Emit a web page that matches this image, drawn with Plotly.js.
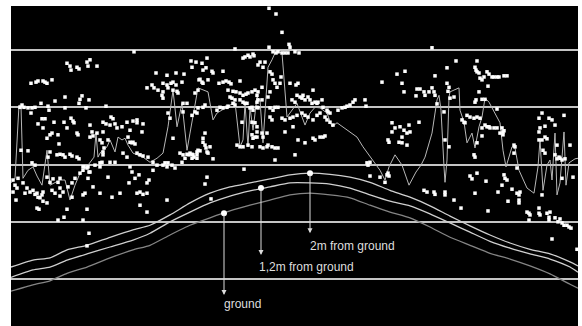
<!DOCTYPE html>
<html>
<head>
<meta charset="utf-8">
<script src="https://cdn.plot.ly/plotly-3.0.1.min.js"></script>
<style>html,body{margin:0;padding:0;background:#fff;}#chart{width:582px;height:326px;}</style>
</head>
<body>
<div id="chart"></div>
<script>
// ---- data (x: distance along profile, y: height; gridlines every 1 unit) ----
const scatterWest = [
[123,3.97],[56,3.77],[59,3.72],[60,3.65],[66,3.70],[68,3.67],[76,3.79],[79,3.83],[77,3.72],[86,3.72],
[20,3.42],[25,3.44],[27,3.46],[32,3.46],[34,3.44],[36,3.42],[41,3.48],
[54,3.18],[71,3.20],[69,3.14],[68,3.07],[78,3.13],[44,3.11],[30,3.07],
[9,3.00],[11,3.04],[13,3.00],[17,2.99],[21,2.99],[24,3.00],[20,2.90],
[37,3.02],[38,2.95],[54,2.99],[75,2.99],[95,3.02],
[31,2.80],[34,2.80],[27,2.71],[32,2.64],[43,2.74],[53,2.74],[60,2.81],[62,2.76],[63,2.73],[56,2.64],
[36,2.46],[39,2.52],[47,2.52],[48,2.36],[66,2.55],[67,2.52],[79,2.69],[81,2.57],[79,2.48],[82,2.50],[86,2.55],
[92,2.74],[95,2.71],[92,2.57],[100,2.83],[102,2.80],[99,2.69],[104,2.71],[106,2.64],[111,2.66],[116,2.74],
[122,2.76],[126,2.78],[126,2.73],[119,2.60],[117,2.48],[119,2.39],[121,2.38],[122,2.39],[124,2.36],
[132,2.71],[131,2.57],[97,2.43],[93,2.29],[92,2.22],[89,2.03],[91,2.04],
[49,2.18],[52,2.17],[54,2.13],[59,2.18],[61,2.15],[66,2.13],[68,2.10],[37,2.13],[10,2.25],[17,2.24],
[21,2.03],[24,1.99],[72,1.96],[77,1.96],[112,2.20],[116,2.13],[119,1.96],
[126,2.20],[129,2.17],[132,2.15],[137,2.13],
[145,3.60],[136,3.34],[141,3.39],[143,3.34],[147,3.30],[151,3.21],[152,3.16],[152,3.27],
[152,3.42],[156,3.39],[160,3.42],[162,3.44],[165,3.39],[157,3.34],[162,3.30],[166,3.28],[167,3.25],
[156,3.56],[165,3.60],[173,3.58],[171,3.44],[180,3.81],[185,3.79],[181,3.70],[188,3.48],
[157,2.90],[159,2.81],[162,2.46],[172,3.07],[176,3.07],[184,2.92],[187,2.99],[172,2.92],
[169,2.20],[172,2.17],[176,2.18],[178,2.17],[181,2.18],[183,2.13],[186,2.17],[174,2.11],
[154,2.03],[157,2.03],[161,1.99],[171,2.04],[187,2.25],
[89,2.43],[91,2.38],[99,2.04],[104,2.04],[92,2.17],[41,2.55],[39,2.22],[46,2.17],
[2,1.73],[7,1.76],[4,1.64],[6,1.59],[2,1.52],[5,1.38],
[12,1.68],[16,1.59],[14,1.50],[19,1.52],[22,1.55],[26,1.50],[27,1.43],[31,1.47],[32,1.52],
[29,1.42],[32,1.36],[36,1.33],[26,1.24],[28,1.22],
[41,1.55],[44,1.50],[49,1.59],[52,1.52],[47,1.69],[49,1.76],
[57,1.61],[61,1.68],[64,1.76],[69,1.85],[72,1.90],
[72,1.47],[82,1.61],[89,1.50],[97,1.78],[77,1.76],[78,1.87],[84,1.99],[89,1.96],
[109,1.50],[121,1.87],[118,1.68],[126,1.50],[129,1.52],[132,1.48],[136,1.50],
[124,1.76],[128,1.82],[136,1.68],[138,1.73],[142,1.90],
[129,1.29],[136,1.17],[156,1.38],
[142,2.04],[146,1.99],[152,1.99],[156,1.96],[164,1.94],
[47,1.03],[53,1.08],[56,1.22],[72,1.03],[76,1.22],[78,0.80],[76,0.58],
[36,1.78],[39,1.69],[42,1.75],[73,1.96],[76,1.94],[79,1.87],[24,1.48],[49,1.45],[61,1.43],[74,1.50],[101,1.43]
];
const scatterCentre = [
[258,4.73],[265,4.63],[271,4.31],[258,4.05],[278,4.10],[279,4.05],[224,4.02],
[232,3.86],[234,3.88],[237,3.91],[239,3.88],[242,3.93],[243,3.90],
[262,3.97],[265,3.95],[267,3.97],[271,3.95],[274,3.95],[277,3.95],[284,3.97],[288,3.95],
[249,3.79],[247,3.74],[252,3.70],[254,3.79],
[191,3.77],[196,3.86],[192,3.65],[195,3.69],[201,3.63],[202,3.60],[212,3.63],[259,3.62],[261,3.58],
[189,3.49],[191,3.44],[192,3.42],[197,3.48],[208,3.42],[212,3.44],[215,3.46],[218,3.44],[220,3.41],[229,3.46],
[262,3.48],[264,3.42],[266,3.35],[269,3.42],[270,3.53],[259,3.27],[257,3.18],[251,3.35],[244,3.30],
[279,3.42],[285,3.39],[287,3.42],[371,3.44],
[184,3.25],[187,3.30],[217,3.30],[222,3.28],[225,3.27],[229,3.25],[232,3.21],[235,3.23],[237,3.25],
[241,3.27],[246,3.21],[247,3.27],[219,3.18],[221,3.16],[224,3.13],[229,3.13],
[232,3.09],[234,3.07],[236,3.07],[246,3.09],[247,3.13],[251,3.13],
[281,3.13],[284,3.09],[286,3.21],[289,3.18],[291,3.16],[292,3.21],[294,3.13],[297,3.18],[302,3.30],
[299,3.13],[301,3.07],[304,3.09],[306,3.07],[307,3.09],[311,3.13],
[312,3.00],[316,2.95],[317,2.92],[319,2.90],
[327,2.95],[331,2.99],[334,3.00],[336,3.02],[339,3.04],[342,3.09],[344,3.13],[354,3.13],[355,3.02],
[192,3.00],[194,3.04],[206,2.95],[209,3.00],[212,2.99],[216,3.00],[217,3.02],[222,3.07],[224,3.04],
[239,2.99],[241,3.00],[242,2.95],[246,3.00],[247,2.99],[259,2.99],[262,2.95],[264,3.00],[267,3.00],
[186,2.90],[181,2.86],
[271,2.81],[274,2.78],[279,2.81],[282,2.83],[286,2.86],[291,2.90],[294,2.86],[297,2.83],[302,2.78],[306,2.86],[309,2.90],[314,2.83],[316,2.78],[319,2.74],[322,2.69],
[241,2.74],[244,2.73],[246,2.66],[259,2.83],[261,2.78],[231,2.74],[282,2.66],
[246,2.57],[251,2.55],[252,2.48],[256,2.55],[246,2.48],[241,2.52],[242,2.46],[244,2.48],
[274,2.57],[287,2.43],[294,2.38],[302,2.46],[304,2.43],[309,2.48],[312,2.48],[314,2.50],
[194,2.55],[192,2.46],[192,2.39],[194,2.34],[195,2.29],
[226,2.34],[229,2.31],[232,2.31],[237,2.34],[241,2.31],[249,2.31],[252,2.29],[256,2.31],[257,2.34],[261,2.31],[264,2.29],[267,2.29],
[199,2.31],[186,2.22],[189,2.24],[196,2.22],[197,2.20],[179,2.20],[182,2.17],[181,2.11],[186,2.11],
[202,2.10],[264,2.08],[284,2.17],[356,2.03],[359,2.04],[377,2.43],
[194,1.66],[196,1.78],[200,1.40],[233,1.92],[357,1.99],[359,1.80],[369,1.78],[377,1.85]
];
const scatterEast = [
[421,4.04],[445,3.81],[466,3.81],[436,3.69],[386,3.58],[394,3.63],[424,3.55],
[464,3.70],[465,3.65],[466,3.62],[468,3.60],[469,3.51],[471,3.48],[473,3.53],[476,3.62],[478,3.58],[481,3.53],[483,3.53],[486,3.53],[488,3.53],[493,3.55],[496,3.55],
[391,3.42],[393,3.27],[406,3.32],[409,3.32],[413,3.27],[414,3.21],[418,3.27],[421,3.34],[423,3.27],[424,3.21],[405,3.20],
[436,3.42],[438,3.35],[437,3.28],[477,3.37],[468,3.27],[471,3.14],[474,3.14],[439,3.16],[443,3.18],[464,3.09],[465,3.13],[426,3.06],
[486,2.97],[433,2.92],[451,2.78],[453,2.74],[454,2.73],[456,2.86],[459,2.83],[463,2.81],[466,2.83],[469,2.81],
[471,2.64],[474,2.69],[476,2.66],[478,2.66],[479,2.64],[483,2.64],[486,2.64],[491,2.64],[493,2.59],[492,2.52],
[471,2.50],[466,2.38],[463,2.17],
[381,2.73],[381,2.57],[384,2.64],[389,2.66],[393,2.60],[391,2.48],[396,2.55],[398,2.69],[399,2.57],
[378,2.39],[388,2.39],[391,2.38],[396,2.34],[408,2.74],[434,2.43],[438,2.31],
[528,2.81],[531,2.90],[538,2.81],[541,2.78],[529,2.64],[528,2.57],[534,2.67],[544,2.69],[553,2.86],
[534,2.48],[528,2.43],[531,2.43],[536,2.45],[532,2.25],
[548,2.13],[549,2.11],[544,2.17],[546,2.10],[551,2.08],[554,2.10],[546,2.34],[559,2.34],[534,2.20],
[503,2.34],[504,2.31],[503,2.20],[464,2.13],[489,2.55],[492,2.57],
[376,1.82],[378,1.80],[374,1.69],[413,1.55],[416,1.52],[423,1.52],[424,1.48],[434,1.52],[434,1.47],
[443,1.38],[450,1.24],[459,1.80],[461,1.75],[466,1.85],[475,1.71],[464,1.50],[477,1.19],
[487,1.52],[491,1.64],[493,1.82],[494,1.76],[496,1.73],[497,1.36],[501,1.57],
[506,1.50],[508,1.38],[508,1.33],[508,1.47],[509,1.52],[506,1.94],
[516,1.17],[518,1.15],[519,1.12],[518,1.03],[528,1.24],[528,1.15],[529,1.12],[531,1.47],
[536,1.15],[538,1.08],[539,1.17],[544,1.07],[547,1.00],[549,1.05],[551,0.98],[553,0.94],[556,0.94],[558,0.91],[560,0.89],
[541,0.70],[551,1.76],[562,1.78],[566,0.52],[538,1.03]
];
const tracePath = [
[0,1.68],[4,1.76],[8,3.04],[10,3.02],[12,1.76],[17,1.90],[22,1.96],[26,1.80],[31,1.64],[36,2.25],[39,1.64],
[44,1.68],[49,1.73],[54,1.73],[59,1.38],[64,1.64],[69,1.85],[77,1.99],[83,2.13],[85,2.55],[87,2.13],[89,2.20],
[96,2.31],[99,2.43],[104,2.22],[107,2.48],[111,2.43],[114,2.46],[117,2.34],[122,2.20],[127,2.17],[132,2.13],
[139,2.04],[146,2.11],[152,2.20],[157,2.66],[162,3.30],[166,2.66],[171,3.07],[176,2.25],[179,2.55],[187,3.34],
[197,3.27],[202,2.78],[206,2.90],[211,2.95],[219,3.04],[224,3.09],[229,2.31],[232,2.43],[234,3.07],[237,2.31],
[239,3.00],[242,2.60],[246,3.18],[249,3.13],[252,2.38],[257,3.70],[261,3.83],[264,3.95],[267,3.97],[271,3.95],
[276,2.83],[279,2.90],[286,3.07],[294,2.69],[299,2.90],[304,3.00],[309,2.99],[316,2.90],[321,2.66],[326,2.73],
[336,2.60],[346,2.48],[352,2.31],[362,2.08],[369,1.90],[374,1.73],[378,1.96],[384,2.17],[391,1.99],[398,1.64],
[405,1.87],[410,1.99],[414,2.13],[421,2.55],[426,3.13],[428,3.21],[430,2.95],[433,1.96],[434,1.69],[436,2.08],
[438,3.18],[439,3.27],[448,3.34],[449,2.95],[453,2.74],[456,2.38],[461,2.55],[464,2.29],[468,2.66],[471,2.83],
[474,3.16],[478,3.09],[484,2.90],[489,2.73],[492,2.25],[495,1.96],[501,2.31],[504,2.29],[508,1.90],[516,1.59],
[523,1.50],[527,1.96],[529,2.43],[532,1.55],[536,1.99],[539,2.08],[541,1.73],[544,2.55],[546,1.47],[549,1.68],
[553,2.57],[555,1.64],[558,2.03],[564,2.10],[567,2.11]
];
const curveX  = [0,22,39,56,76,99,122,139,159,179,199,219,239,259,279,299,319,339,359,379,399,419,439,459,479,499,519,539,559,567];
const groundY = [-0.21,-0.10,-0.03,0.10,0.21,0.37,0.51,0.59,0.77,0.94,1.07,1.19,1.29,1.38,1.47,1.50,1.47,1.42,1.29,1.17,1.07,0.91,0.73,0.59,0.45,0.35,0.23,0.09,-0.09,-0.16];
const h12Y    = [0.03,0.16,0.21,0.33,0.44,0.56,0.68,0.80,1.00,1.17,1.33,1.45,1.54,1.61,1.68,1.68,1.66,1.59,1.47,1.36,1.28,1.14,0.98,0.82,0.66,0.54,0.44,0.35,0.21,0.12];
const h2Y     = [0.21,0.33,0.37,0.51,0.59,0.73,0.86,0.94,1.12,1.33,1.50,1.61,1.68,1.75,1.82,1.85,1.83,1.78,1.69,1.55,1.43,1.28,1.10,0.93,0.77,0.63,0.52,0.44,0.30,0.23];
const calloutLabels = ['ground', '1,2m from ground', '2m from ground'];
const calloutX = [213, 250, 299];
const calloutY = [1.15, 1.59, 1.85];

// ---- build traces ----
const allPts = scatterWest.concat(scatterCentre, scatterEast);
const traces = [
  {x: curveX, y: groundY, mode: 'lines', line: {color: '#858585', width: 1.3, shape: 'spline', smoothing: 0.5}, hoverinfo: 'skip'},
  {x: curveX, y: h12Y, mode: 'lines', line: {color: '#cfcfcf', width: 1.3, shape: 'spline', smoothing: 0.5}, hoverinfo: 'skip'},
  {x: curveX, y: h2Y, mode: 'lines', line: {color: '#cfcfcf', width: 1.3, shape: 'spline', smoothing: 0.5}, hoverinfo: 'skip'},
  {x: tracePath.map(p => p[0]), y: tracePath.map(p => p[1]), mode: 'lines', line: {color: '#b8b8b8', width: 1}, hoverinfo: 'skip'},
  {x: allPts.map(p => p[0]), y: allPts.map(p => p[1]), mode: 'markers', marker: {symbol: 'square', size: 3.5, color: '#ffffff', line: {width: 0}}, hoverinfo: 'skip'},
  {x: calloutX, y: calloutY, mode: 'markers', marker: {symbol: 'circle', size: 6, color: '#ffffff', line: {width: 0}}, hoverinfo: 'skip'}
];

// arrow tips and label positions (layout)
const tipY = [-0.28, 0.42, 0.80];
const labelX = [211, 246, 297];
const labelY = [-0.44, 0.21, 0.58];
const annotations = [];
calloutLabels.forEach((lab, i) => {
  annotations.push({x: calloutX[i], y: tipY[i], xref: 'x', yref: 'y', ax: calloutX[i], ay: calloutY[i], axref: 'x', ayref: 'y',
    text: '', showarrow: true, arrowhead: 2, arrowsize: 1, arrowwidth: 1, arrowcolor: '#dcdcdc', standoff: 0, startstandoff: 0});
  annotations.push({x: labelX[i], y: labelY[i], xref: 'x', yref: 'y', text: lab, showarrow: false, xanchor: 'left', yanchor: 'middle',
    font: {family: 'Liberation Sans, Arial, sans-serif', size: 12, color: '#dedede'}});
});

const layout = {
  width: 582, height: 326,
  margin: {l: 11, r: 4, t: 6, b: 0, pad: 0},
  paper_bgcolor: '#ffffff', plot_bgcolor: '#000000',
  showlegend: false,
  xaxis: {range: [0, 567], showgrid: false, zeroline: false, showticklabels: false, ticks: '', showline: false, fixedrange: true},
  yaxis: {range: [-0.82, 4.77], tick0: 0, dtick: 1, showgrid: true, gridcolor: '#c4c4c4', gridwidth: 2,
          zeroline: false, showticklabels: false, ticks: '', showline: false, fixedrange: true},
  annotations: annotations
};
Plotly.newPlot('chart', traces, layout, {displayModeBar: false, staticPlot: true});
</script>
</body>
</html>
